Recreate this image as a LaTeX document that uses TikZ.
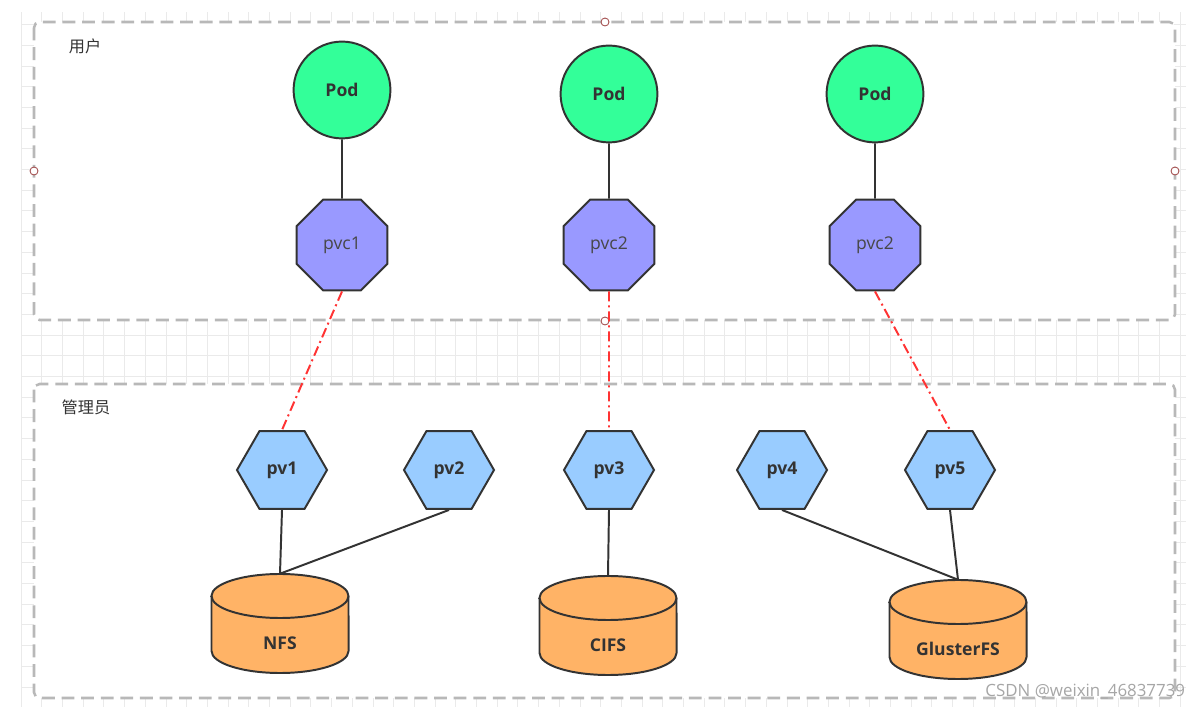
\documentclass[tikz,border=0pt]{standalone}
\usepackage{fontspec}
\setmainfont{Open Sans}
\newfontfamily\cjk{Noto Sans CJK SC}
\usetikzlibrary{shapes.geometric}
\definecolor{PodGreen}{HTML}{33FF99}
\definecolor{PvcPurple}{HTML}{9999FF}
\definecolor{PvBlue}{HTML}{99CCFF}
\definecolor{DiskOrange}{HTML}{FFB366}
\definecolor{LineGray}{HTML}{333333}
\definecolor{BoxGray}{HTML}{B8B8B8}
\definecolor{GridGray}{HTML}{EAEAEA}
\definecolor{BindRed}{HTML}{FF3333}
\definecolor{HandleRed}{HTML}{A04848}

\begin{document}
\begin{tikzpicture}[
    x=0.025cm, y=-0.025cm,
    font=\fontsize{12.5}{15}\selectfont,
    gridline/.style={GridGray, line width=0.5pt},
    area/.style={draw=BoxGray, fill=white, line width=1.8pt, rounded corners=4pt,
                 dash pattern=on 0.32cm off 0.17cm},
    handle/.style={circle, draw=HandleRed, fill=white, line width=0.6pt,
                   minimum size=0.2cm, inner sep=0pt},
    pod/.style={circle, draw=LineGray, line width=1.4pt, fill=PodGreen,
                minimum size=2.42cm, inner sep=0pt, text=LineGray, font=\fontsize{12.5}{15}\selectfont\bfseries},
    pvc/.style={regular polygon, regular polygon sides=8, draw=LineGray, line width=1.4pt,
                fill=PvcPurple, minimum size=2.46cm, inner sep=0pt, text=LineGray!90},
    pv/.style={regular polygon, regular polygon sides=6, draw=LineGray, line width=1.4pt,
               fill=PvBlue, minimum size=2.25cm, inner sep=0pt, text=LineGray, font=\fontsize{12.5}{15}\selectfont\bfseries},
    diskbody/.style={draw=LineGray, fill=DiskOrange, line width=1.4pt},
    disk/.style={rectangle, minimum width=3.425cm, minimum height=2.475cm, inner sep=0pt,
                 text height=37pt, text depth=0pt,
                 text=LineGray, font=\fontsize{12.5}{15}\selectfont\bfseries},
    link/.style={LineGray, line width=1.4pt},
    bind/.style={BindRed, line width=1.4pt, dash pattern=on 0.25cm off 0.1cm on 0.05cm off 0.1cm},
]
\useasboundingbox (0,0) rectangle (1192,707);

% canvas grid
\foreach \gx in {0,...,56}
    \draw[gridline] ({21+20.7*\gx},12) -- ({21+20.7*\gx},707);
\foreach \gy in {0,...,33}
    \draw[gridline] (21,{24.5+20.7*\gy}) -- (1186,{24.5+20.7*\gy});

% user / admin areas
\draw[area] (34,22) rectangle (1175,320);
\draw[area] (34,384) rectangle (1175,698);
\node[font=\cjk\fontsize{11.5}{14}\selectfont, text=LineGray] (user) at (85,46) {用户};
\node[font=\cjk\fontsize{11.5}{14}\selectfont, text=LineGray] (admin) at (86,407) {管理员};

% selection handles
\node[handle] (h1) at (605,22) {};
\node[handle] (h2) at (34,171) {};
\node[handle] (h3) at (1175,171) {};
\node[handle] (h4) at (605,321) {};

% pods and claims
\node[pod] (pod1) at (342,90) {Pod};
\node[pod] (pod2) at (609,94) {Pod};
\node[pod] (pod3) at (875,94) {Pod};
\node[pvc] (pvc1) at (342,245) {pvc1};
\node[pvc] (pvc2) at (609,245) {pvc2};
\node[pvc] (pvc3) at (875,245) {pvc2};

% volumes
\node[pv] (pv1) at (282,470) {pv1};
\node[pv] (pv2) at (449,470) {pv2};
\node[pv] (pv3) at (609,470) {pv3};
\node[pv] (pv4) at (782,470) {pv4};
\node[pv] (pv5) at (950,470) {pv5};

% storage: cylinders (centre x / top y), then the labels on top
\foreach \cx/\ty in {280/574, 608/576, 958/580}{
    \filldraw[diskbody] ({\cx-68.5},{\ty+22}) -- ({\cx-68.5},{\ty+77})
        arc[start angle=180, end angle=360, x radius=1.7125cm, y radius=0.55cm]
        -- ({\cx+68.5},{\ty+22})
        arc[start angle=0, end angle=180, x radius=1.7125cm, y radius=0.55cm] -- cycle;
    \draw[diskbody, fill=none] ({\cx-68.5},{\ty+22})
        arc[start angle=180, end angle=360, x radius=1.7125cm, y radius=0.55cm];
}
\node[disk] (nfs) at (280,623.5) {NFS};
\node[disk] (cifs) at (608,625.5) {CIFS};
\node[disk] (gfs) at (958,629.5) {GlusterFS};

\draw[link] (pod1) -- (pvc1);
\draw[link] (pod2) -- (pvc2);
\draw[link] (pod3) -- (pvc3);

\draw[bind] (pvc1.south) -- (pv1.north);
\draw[bind] (pvc2.south) -- (pv3.north);
\draw[bind] (pvc3.south) -- (pv5.north);

\draw[link] (pv1.south) -- (nfs.north);
\draw[link] (pv2.south) -- (nfs.north);
\draw[link] (pv3.south) -- (cifs.north);
\draw[link] (pv4.south) -- (gfs.north);
\draw[link] (pv5.south) -- (gfs.north);

% watermark
\node[anchor=east, text=gray!70, font=\fontsize{12}{14}\selectfont] (mark) at (1190,692) {CSDN @weixin\_46837739};

\end{tikzpicture}
\end{document}
